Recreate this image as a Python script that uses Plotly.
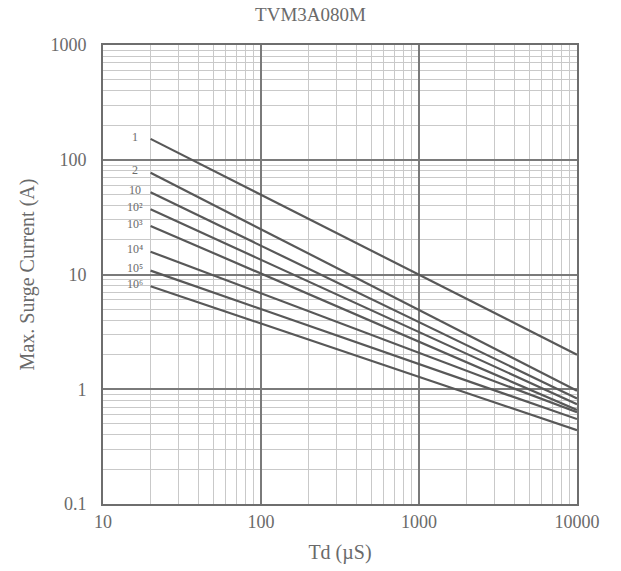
import math
import plotly.graph_objects as go

td = [20, 10000]
series_labels = ["1", "2", "10", "10²", "10³", "10⁴", "10⁵", "10⁶"]
series_start = [152, 77, 52, 37, 26.5, 15.8, 10.8, 7.9]
series_end = [2.0, 0.97, 0.83, 0.74, 0.66, 0.63, 0.55, 0.44]
x_ticks = [10, 100, 1000, 10000]
y_ticks = [0.1, 1, 10, 100, 1000]

FONT = "Liberation Serif"
TXT = "#6a6a6a"
LINE = "#585858"

fig = go.Figure()
for lab, a, b in zip(series_labels, series_start, series_end):
    fig.add_trace(go.Scatter(x=td, y=[a, b], mode="lines",
                             line=dict(color=LINE, width=2.2), name=lab,
                             showlegend=False, hoverinfo="skip"))
    fig.add_annotation(x=1.2, y=math.log10(a) + 0.02, xref="x", yref="y",
                       text=lab, showarrow=False, xanchor="center", yanchor="middle",
                       font=dict(family=FONT, size=12, color=TXT))

axis_common = dict(
    type="log",
    automargin=False,
    showgrid=True, gridcolor="#7a7a7a", gridwidth=2,
    minor=dict(showgrid=True, gridcolor="#c9c9c9", gridwidth=1, dtick="D1"),
    showline=True, linecolor="#6e6e6e", linewidth=2, mirror=True,
    zeroline=False,
    tickfont=dict(family=FONT, size=18, color=TXT),
    ticks="",
)

fig.update_layout(
    width=621, height=571,
    margin=dict(l=103, r=44, t=45, b=67, autoexpand=False),
    paper_bgcolor="white", plot_bgcolor="white",
    title=dict(text="TVM3A080M", x=0.5, xanchor="center", y=0.974, yanchor="middle",
               font=dict(family=FONT, size=19, color=TXT), automargin=False),
    xaxis=dict(axis_common, range=[1, 4], tickvals=x_ticks,
               ticktext=[str(v) for v in x_ticks],
               ticklabelstandoff=0,
               title=dict(text="Td (µS)", font=dict(family=FONT, size=20, color=TXT), standoff=14)),
    yaxis=dict(axis_common, range=[-1, 3], tickvals=y_ticks,
               ticktext=["0.1", "1", "10", "100", "1000"],
               ticklabelstandoff=11,
               title=dict(text="Max. Surge Current (A)", font=dict(family=FONT, size=20, color=TXT), standoff=10)),
)

fig.write_html("out.html", config={"displayModeBar": False},
               post_script="document.body.style.margin='0';")
